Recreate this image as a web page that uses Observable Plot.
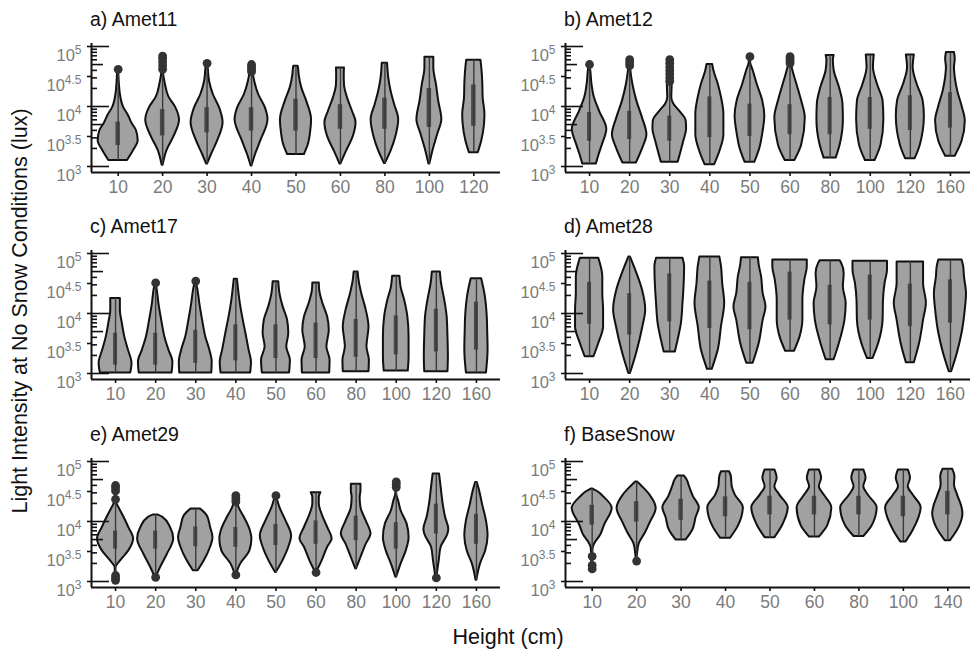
<!DOCTYPE html>
<html>
<head>
<meta charset="utf-8">
<script src="https://cdn.jsdelivr.net/npm/d3@7"></script>
<script src="https://cdn.jsdelivr.net/npm/@observablehq/plot@0.6"></script>
<style>
  html, body { margin: 0; padding: 0; background: #fff; }
  #root { position: relative; width: 970px; height: 654px; overflow: hidden; font-family: "Liberation Sans", Arial, sans-serif; }
  .panel { position: absolute; }
  .ptitle { position: absolute; font-size: 19.5px; line-height: 1; color: #111; white-space: nowrap; }
  .ylab { position: absolute; left: 21px; top: 311px; transform: translate(-50%, -50%) rotate(-90deg); font-size: 21.5px; line-height: 1; color: #111; white-space: nowrap; }
  .xlab { position: absolute; left: 508px; top: 627px; transform: translateX(-50%); font-size: 21.5px; line-height: 1; color: #111; white-space: nowrap; }
</style>
</head>
<body>
<div id="root"></div>
<script>
// ---------------- DATA (log10 lux) ----------------
const panelTitles = ["a) Amet11", "b) Amet12", "c) Amet17", "d) Amet28", "e) Amet29", "f) BaseSnow"];
const yTickValues = [3, 3.5, 4, 4.5, 5];

// Panel a: Amet11
const aHeights = [10, 20, 30, 40, 50, 60, 80, 100, 120];
const aViolins = [
  [[3.1,0.21],[3.27,0.35],[3.43,0.45],[3.6,0.41],[3.72,0.31],[3.85,0.23],[3.99,0.12],[4.2,0.05],[4.4,0.025],[4.6,0.012]],
  [[3.02,0.01],[3.27,0.1],[3.49,0.25],[3.77,0.38],[3.99,0.29],[4.16,0.14],[4.38,0.06],[4.56,0.02],[4.82,0.01]],
  [[3.04,0.01],[3.2,0.1],[3.43,0.24],[3.73,0.36],[3.98,0.28],[4.2,0.14],[4.42,0.055],[4.64,0.025],[4.72,0.01]],
  [[3.01,0.01],[3.2,0.09],[3.43,0.21],[3.78,0.37],[3.98,0.31],[4.2,0.16],[4.42,0.07],[4.59,0.03],[4.7,0.01]],
  [[3.2,0.19],[3.37,0.28],[3.58,0.33],[3.78,0.35],[4.09,0.24],[4.31,0.13],[4.53,0.07],[4.62,0.06],[4.67,0.05]],
  [[3.04,0.01],[3.26,0.14],[3.48,0.28],[3.73,0.35],[3.92,0.27],[4.14,0.16],[4.36,0.09],[4.53,0.085],[4.64,0.09]],
  [[3.05,0.01],[3.26,0.14],[3.48,0.24],[3.78,0.31],[4.03,0.22],[4.25,0.14],[4.48,0.085],[4.72,0.06]],
  [[3.04,0.01],[3.26,0.08],[3.54,0.19],[3.78,0.28],[4.09,0.21],[4.36,0.16],[4.64,0.1],[4.82,0.1]],
  [[3.23,0.1],[3.43,0.18],[3.7,0.24],[3.87,0.25],[4.14,0.21],[4.42,0.2],[4.64,0.18],[4.77,0.16]]
];
const aBoxes = [[3.35,3.74],[3.51,3.95],[3.56,3.98],[3.59,3.98],[3.59,4.12],[3.62,4.03],[3.62,4.14],[3.65,4.3],[3.67,4.36]];
const aOutliers = [[1,4.62],[2,4.62],[2,4.68],[2,4.74],[2,4.8],[2,4.84],[3,4.72],[4,4.58],[4,4.62],[4,4.66],[4,4.7]];

// Panel b: Amet12
const bHeights = [10, 20, 30, 40, 50, 60, 80, 100, 120, 160];
const bViolins = [
  [[3.04,0.17],[3.2,0.24],[3.36,0.32],[3.62,0.43],[3.92,0.25],[4.15,0.12],[4.37,0.06],[4.6,0.03],[4.7,0.01]],
  [[3.06,0.17],[3.31,0.33],[3.53,0.43],[3.81,0.32],[4.09,0.18],[4.37,0.08],[4.6,0.03],[4.78,0.01]],
  [[3.07,0.21],[3.42,0.35],[3.62,0.42],[3.76,0.41],[3.92,0.25],[4.04,0.1],[4.15,0.05],[4.37,0.06],[4.5,0.05],[4.78,0.01]],
  [[3.03,0.12],[3.25,0.25],[3.53,0.35],[3.87,0.35],[4.15,0.29],[4.37,0.21],[4.6,0.1],[4.7,0.07]],
  [[3.07,0.12],[3.31,0.25],[3.55,0.32],[3.84,0.37],[4.09,0.32],[4.37,0.18],[4.6,0.08],[4.72,0.02],[4.83,0.01]],
  [[3.1,0.12],[3.36,0.29],[3.81,0.38],[4.09,0.29],[4.37,0.17],[4.6,0.07],[4.74,0.02]],
  [[3.14,0.15],[3.36,0.25],[3.78,0.33],[4.04,0.32],[4.32,0.23],[4.6,0.1],[4.77,0.08],[4.85,0.1]],
  [[3.1,0.12],[3.36,0.27],[3.78,0.34],[4.09,0.32],[4.37,0.18],[4.65,0.08],[4.86,0.1]],
  [[3.13,0.12],[3.36,0.25],[3.84,0.35],[4.09,0.32],[4.37,0.17],[4.65,0.07],[4.86,0.1]],
  [[3.17,0.12],[3.42,0.29],[3.76,0.37],[3.98,0.3],[4.26,0.18],[4.48,0.12],[4.65,0.1],[4.79,0.12],[4.9,0.1]]
];
const bBoxes = [[3.42,3.9],[3.45,3.92],[3.42,3.84],[3.48,4.16],[3.5,4.04],[3.53,4.03],[3.53,4.15],[3.62,4.15],[3.6,4.18],[3.64,4.23]];
const bOutliers = [[1,4.7],[2,4.68],[2,4.73],[2,4.78],[3,4.42],[3,4.48],[3,4.54],[3,4.6],[3,4.66],[3,4.72],[3,4.78],[5,4.83],[6,4.72],[6,4.76],[6,4.8],[6,4.83]];

// Panel c: Amet17
const cHeights = [10, 20, 30, 40, 50, 60, 80, 100, 120, 160];
const cViolins = [
  [[3.01,0.38],[3.17,0.41],[3.39,0.32],[3.61,0.23],[3.83,0.17],[4.06,0.12],[4.25,0.12]],
  [[3.01,0.41],[3.19,0.43],[3.39,0.33],[3.61,0.23],[3.89,0.15],[4.17,0.08],[4.39,0.04],[4.5,0.01]],
  [[3.01,0.4],[3.19,0.41],[3.39,0.35],[3.61,0.25],[3.89,0.17],[4.17,0.1],[4.39,0.055],[4.53,0.01]],
  [[3.01,0.37],[3.19,0.39],[3.39,0.33],[3.67,0.25],[3.94,0.17],[4.22,0.1],[4.44,0.06],[4.57,0.04]],
  [[3.01,0.34],[3.22,0.36],[3.44,0.27],[3.67,0.32],[3.89,0.29],[4.11,0.18],[4.33,0.1],[4.53,0.07]],
  [[3.01,0.34],[3.22,0.35],[3.44,0.27],[3.72,0.33],[3.94,0.29],[4.17,0.17],[4.39,0.09],[4.51,0.08]],
  [[3.03,0.32],[3.22,0.33],[3.44,0.27],[3.78,0.32],[4.06,0.25],[4.33,0.14],[4.56,0.07],[4.69,0.05]],
  [[3.04,0.3],[3.28,0.32],[3.61,0.32],[3.94,0.29],[4.22,0.21],[4.44,0.12],[4.62,0.09]],
  [[3.03,0.29],[3.28,0.3],[3.61,0.29],[3.94,0.27],[4.22,0.21],[4.5,0.13],[4.69,0.1]],
  [[3.01,0.25],[3.39,0.29],[3.72,0.28],[3.94,0.27],[4.33,0.21],[4.58,0.13]]
];
const cBoxes = [[3.14,3.67],[3.14,3.67],[3.17,3.72],[3.21,3.81],[3.25,3.81],[3.25,3.84],[3.27,3.9],[3.31,3.96],[3.36,4.07],[3.39,4.19]];
const cOutliers = [[2,4.51],[3,4.54]];

// Panel d: Amet28
const dHeights = [10, 20, 30, 40, 50, 60, 80, 100, 120, 160];
const dViolins = [
  [[3.28,0.11],[3.5,0.23],[3.78,0.35],[4.06,0.35],[4.33,0.33],[4.61,0.33],[4.78,0.29],[4.92,0.23]],
  [[3.0,0.02],[3.33,0.17],[3.78,0.33],[4.06,0.4],[4.39,0.32],[4.67,0.18],[4.94,0.02]],
  [[3.36,0.14],[3.56,0.21],[3.83,0.29],[4.17,0.33],[4.5,0.36],[4.78,0.37],[4.92,0.33]],
  [[3.07,0.06],[3.39,0.21],[3.78,0.29],[4.17,0.37],[4.5,0.32],[4.78,0.29],[4.94,0.25]],
  [[3.17,0.08],[3.5,0.23],[3.89,0.33],[4.11,0.4],[4.33,0.33],[4.61,0.29],[4.81,0.23],[4.93,0.21]],
  [[3.37,0.11],[3.61,0.25],[3.89,0.32],[4.22,0.32],[4.56,0.37],[4.78,0.43],[4.89,0.43]],
  [[3.23,0.1],[3.5,0.23],[3.89,0.37],[4.17,0.4],[4.44,0.33],[4.67,0.35],[4.83,0.29],[4.88,0.25]],
  [[3.25,0.07],[3.5,0.21],[3.89,0.32],[4.22,0.33],[4.5,0.37],[4.72,0.43],[4.87,0.43]],
  [[3.18,0.1],[3.5,0.23],[3.89,0.33],[4.17,0.4],[4.5,0.33],[4.72,0.33],[4.86,0.33]],
  [[3.03,0.03],[3.33,0.17],[3.67,0.29],[4.06,0.37],[4.33,0.4],[4.61,0.35],[4.78,0.33],[4.89,0.29]]
];
const dBoxes = [[3.82,4.52],[3.64,4.33],[3.86,4.66],[3.75,4.54],[3.73,4.52],[3.89,4.69],[3.81,4.47],[3.89,4.64],[3.78,4.49],[3.84,4.56]];
const dOutliers = [];

// Panel e: Amet29
const eHeights = [10, 20, 30, 40, 50, 60, 80, 100, 120, 160];
const eViolins = [
  [[3.02,0.005],[3.23,0.01],[3.34,0.12],[3.51,0.33],[3.71,0.45],[3.9,0.33],[4.07,0.21],[4.21,0.1],[4.29,0.04],[4.34,0.01],[4.6,0.005]],
  [[3.07,0.01],[3.23,0.12],[3.45,0.29],[3.71,0.45],[3.9,0.37],[4.07,0.18],[4.11,0.05]],
  [[3.18,0.06],[3.34,0.21],[3.57,0.37],[3.73,0.43],[3.9,0.37],[4.09,0.29],[4.21,0.12]],
  [[3.11,0.01],[3.29,0.12],[3.51,0.35],[3.71,0.4],[3.87,0.35],[4.07,0.21],[4.23,0.08],[4.43,0.01]],
  [[3.15,0.01],[3.34,0.17],[3.57,0.32],[3.76,0.39],[4.01,0.25],[4.23,0.1],[4.43,0.01]],
  [[3.15,0.01],[3.34,0.15],[3.57,0.29],[3.71,0.4],[3.9,0.29],[4.12,0.15],[4.29,0.08],[4.4,0.08],[4.48,0.12]],
  [[3.21,0.01],[3.4,0.12],[3.62,0.25],[3.79,0.37],[4.01,0.25],[4.23,0.12],[4.4,0.1],[4.51,0.12],[4.62,0.12]],
  [[3.07,0.01],[3.29,0.12],[3.51,0.25],[3.73,0.32],[3.96,0.27],[4.18,0.12],[4.34,0.06],[4.46,0.01],[4.66,0.005]],
  [[3.06,0.01],[3.34,0.07],[3.57,0.12],[3.79,0.29],[3.87,0.31],[4.07,0.23],[4.29,0.17],[4.57,0.12],[4.79,0.08]],
  [[3.02,0.01],[3.29,0.1],[3.51,0.23],[3.76,0.29],[4.01,0.25],[4.29,0.15],[4.51,0.08],[4.65,0.02]]
];
const eBoxes = [[3.54,3.84],[3.54,3.84],[3.58,3.91],[3.57,3.9],[3.6,3.95],[3.62,4.01],[3.68,4.09],[3.54,3.98],[3.79,4.29],[3.62,4.12]];
const eOutliers = [[1,3.02],[1,3.06],[1,3.1],[1,4.37],[1,4.51],[1,4.56],[1,4.6],[2,3.07],[4,3.11],[4,4.33],[4,4.38],[4,4.43],[5,4.43],[6,3.15],[8,4.57],[8,4.62],[8,4.66],[9,3.06]];

// Panel f: BaseSnow
const fHeights = [10, 20, 30, 40, 50, 60, 80, 100, 140];
const fViolins = [
  [[3.21,0.005],[3.55,0.02],[3.63,0.06],[3.77,0.19],[3.94,0.28],[4.22,0.45],[4.41,0.26],[4.5,0.12],[4.54,0.02]],
  [[3.34,0.005],[3.46,0.02],[3.63,0.06],[3.8,0.19],[3.97,0.3],[4.22,0.44],[4.44,0.3],[4.58,0.13],[4.66,0.02]],
  [[3.69,0.11],[3.85,0.26],[4.07,0.34],[4.23,0.41],[4.41,0.28],[4.58,0.19],[4.7,0.13],[4.76,0.07]],
  [[3.72,0.11],[3.91,0.28],[4.23,0.4],[4.44,0.22],[4.58,0.15],[4.75,0.13],[4.83,0.09]],
  [[3.73,0.11],[3.93,0.28],[4.23,0.41],[4.44,0.22],[4.58,0.11],[4.72,0.16],[4.86,0.11]],
  [[3.74,0.11],[3.93,0.3],[4.23,0.39],[4.44,0.22],[4.58,0.11],[4.72,0.16],[4.86,0.11]],
  [[3.75,0.11],[3.93,0.3],[4.23,0.41],[4.44,0.21],[4.58,0.11],[4.72,0.16],[4.86,0.11]],
  [[3.66,0.06],[3.85,0.22],[4.23,0.4],[4.44,0.22],[4.58,0.11],[4.72,0.16],[4.86,0.11]],
  [[3.68,0.06],[3.91,0.26],[4.13,0.34],[4.23,0.32],[4.44,0.22],[4.61,0.15],[4.75,0.16],[4.87,0.11]]
];
const fBoxes = [[3.94,4.27],[3.99,4.33],[4.02,4.37],[4.08,4.41],[4.11,4.42],[4.11,4.42],[4.11,4.42],[4.08,4.42],[4.11,4.5]];
const fOutliers = [[1,3.21],[1,3.27],[1,3.42],[2,3.34]];

// annotation log ticks: multipliers within each decade
const logDecades = [3, 4];
const logMultipliers = [1, 2, 3, 4, 5, 6, 7, 8, 9];

// ---------------- PANELS ----------------
const panels = [
  {title: panelTitles[0], heights: aHeights, violins: aViolins, boxes: aBoxes, outliers: aOutliers},
  {title: panelTitles[1], heights: bHeights, violins: bViolins, boxes: bBoxes, outliers: bOutliers},
  {title: panelTitles[2], heights: cHeights, violins: cViolins, boxes: cBoxes, outliers: cOutliers},
  {title: panelTitles[3], heights: dHeights, violins: dViolins, boxes: dBoxes, outliers: dOutliers},
  {title: panelTitles[4], heights: eHeights, violins: eViolins, boxes: eBoxes, outliers: eOutliers},
  {title: panelTitles[5], heights: fHeights, violins: fViolins, boxes: fBoxes, outliers: fOutliers}
];

const root = document.getElementById("root");
const SVG_W = 500, SVG_H = 202, ML = 91, MT = 43, MB = 30, PLOT_W = 409;
const Y_DOMAIN = [2.9, 5.05];
const colLeft = [0, 474];
const rowTop = [0, 207, 415];

const logTickData = [];
logDecades.forEach(dec => logMultipliers.forEach(m => {
  logTickData.push({y: dec + Math.log10(m), len: m === 1 ? 18 : m === 5 ? 12 : 6});
}));
logTickData.push({y: 5, len: 18});

panels.forEach((p, idx) => {
  const col = idx % 2, row = Math.floor(idx / 2);
  const n = p.heights.length;
  const xMin = 0.4, xMax = n + 0.6;
  const pxPerUnit = PLOT_W / (xMax - xMin);
  const positions = p.heights.map((_, i) => i + 1);

  const areaData = p.violins.flatMap((prof, i) =>
    prof.map(([y, w]) => ({cat: i + 1, y, x1: i + 1 - w, x2: i + 1 + w})));
  const whiskers = p.violins.map((prof, i) => ({x: i + 1, y1: prof[0][0], y2: prof[prof.length - 1][0]}));
  const boxData = p.boxes.map(([q1, q3], i) => ({x1: i + 1 - 0.05, x2: i + 1 + 0.05, y1: q1, y2: q3}));
  const outData = p.outliers.map(([c, v]) => ({x: c, y: v}));

  const svg = Plot.plot({
    width: SVG_W, height: SVG_H,
    marginLeft: ML, marginRight: SVG_W - ML - PLOT_W, marginTop: MT, marginBottom: MB,
    x: {domain: [xMin, xMax], axis: null, label: null},
    y: {domain: Y_DOMAIN, axis: null, label: null},
    style: {fontFamily: '"Liberation Sans", Arial, sans-serif', background: "transparent", overflow: "visible"},
    marks: [
      Plot.areaX(areaData, {y: "y", x1: "x1", x2: "x2", z: "cat", curve: "monotone-y",
        fill: "#a1a1a1", stroke: "#111", strokeWidth: 2}),
      Plot.ruleX(whiskers, {x: "x", y1: "y1", y2: "y2", stroke: "#3a3a3a", strokeWidth: 1.4}),
      Plot.rect(boxData, {x1: "x1", x2: "x2", y1: "y1", y2: "y2", fill: "#3a3a3a", fillOpacity: 0.85}),
      Plot.dot(outData, {x: "x", y: "y", r: 4.4, fill: "#333", stroke: "none"}),
      Plot.ruleY(logTickData, {y: "y", x1: xMin, x2: d => xMin + d.len / pxPerUnit, stroke: "#111", strokeWidth: 1.6}),
      Plot.ruleX([xMin], {stroke: "#111", strokeWidth: 2}),
      Plot.ruleY([Y_DOMAIN[0]], {stroke: "#111", strokeWidth: 2}),
      Plot.axisX(positions, {tickSize: 4, tickPadding: 4, tickFormat: v => String(p.heights[v - 1]),
        fontSize: 17.5, stroke: "#111", strokeWidth: 1.6, fill: "#7b7b7b", label: null}),
      Plot.axisY(yTickValues, {tickSize: 4, tickPadding: 6, tickFormat: v => String(v),
        fontSize: 16.5, stroke: "#111", strokeWidth: 1.6, fill: "#7b7b7b", label: null})
    ]
  });

  // superscript exponents on y tick labels
  d3.select(svg).selectAll('g[aria-label="y-axis tick label"] text').each(function() {
    const v = this.textContent;
    const t = d3.select(this);
    t.text("").attr("dy", "0.55em");
    t.append("tspan").text("10");
    t.append("tspan").attr("dy", "-0.55em").attr("font-size", "12px").text(v);
  });

  svg.classList.add("panel");
  svg.style.left = colLeft[col] + "px";
  svg.style.top = rowTop[row] + "px";
  root.appendChild(svg);

  const t = document.createElement("div");
  t.className = "ptitle";
  t.textContent = p.title;
  t.style.left = (colLeft[col] + ML - 1) + "px";
  t.style.top = (rowTop[row] + 10) + "px";
  root.appendChild(t);
});

const yl = document.createElement("div");
yl.className = "ylab";
yl.textContent = "Light Intensity at No Snow Conditions (lux)";
root.appendChild(yl);

const xl = document.createElement("div");
xl.className = "xlab";
xl.textContent = "Height (cm)";
root.appendChild(xl);
</script>
</body>
</html>
